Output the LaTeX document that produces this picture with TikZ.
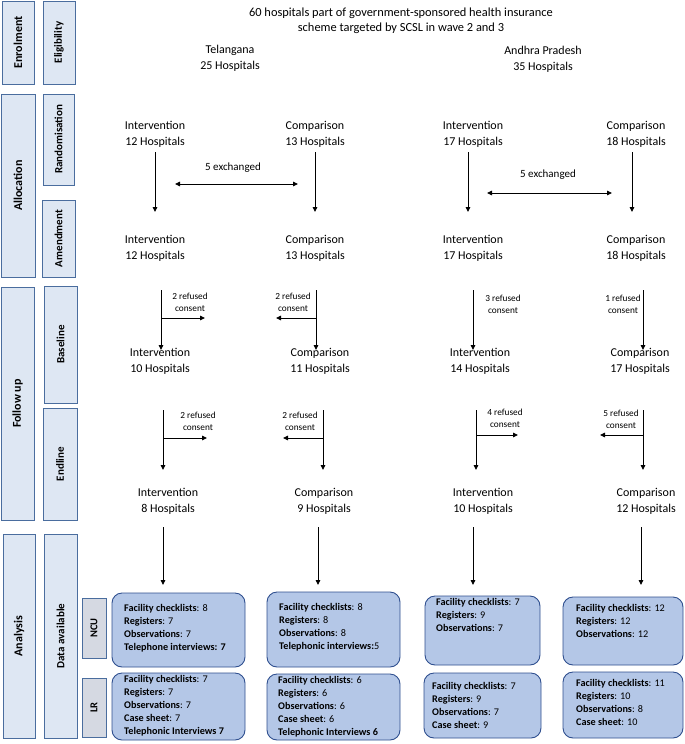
\documentclass[tikz,border=0pt]{standalone}
\usepackage{fontspec}
\setmainfont{Carlito}
\usetikzlibrary{arrows.meta}
\definecolor{sidefill}{HTML}{DEE7F3}
\definecolor{sideborder}{HTML}{4A6D9E}
\definecolor{grayfill}{HTML}{D5D9E2}
\definecolor{boxfill}{HTML}{B4C7E7}
\definecolor{boxborder}{HTML}{2F4F8F}
\begin{document}
\begin{tikzpicture}[x=1pt,y=-1pt,
  sidebox/.style={draw=sideborder, fill=sidefill, line width=0.9pt, rotate=90, inner sep=0pt, font=\bfseries\fontsize{12}{14}\selectfont},
  subbox/.style={sidebox, font=\bfseries\fontsize{11}{13}\selectfont},
  graybox/.style={draw=sideborder, fill=grayfill, line width=0.9pt, rotate=90, inner sep=0pt, font=\bfseries\fontsize{10.5}{12}\selectfont},
  grp/.style={align=center, inner sep=0pt, font=\fontsize{12}{16}\selectfont},
  small/.style={align=center, inner sep=0pt, font=\fontsize{9.3}{12}\selectfont},
  exch/.style={inner sep=0pt, font=\fontsize{11}{13}\selectfont},
  databox/.style={draw=boxborder, fill=boxfill, line width=0.9pt, rounded corners=10pt, inner sep=0pt},
  datatext/.style={align=left, anchor=north west, inner sep=0pt, font=\fontsize{10.2}{13}\selectfont},
  arr/.style={-{Triangle[length=5pt,width=4.5pt]}, line width=0.9pt},
  darr/.style={{Triangle[length=5pt,width=4.5pt]}-{Triangle[length=5pt,width=4.5pt]}, line width=0.9pt}
]
\useasboundingbox (0,0) rectangle (685,744);

% side column
\node[sidebox, minimum width=83, minimum height=32] (enrol) at (18,42.5) {Enrolment};
\node[subbox, minimum width=83, minimum height=32] (elig) at (59,42.5) {Eligibility};
\node[sidebox, minimum width=183, minimum height=34] (alloc) at (18,185.5) {Allocation};
\node[subbox, minimum width=91, minimum height=31] (rand) at (58.5,139.5) {Randomisation};
\node[subbox, minimum width=77, minimum height=33] (amend) at (58.5,238.5) {Amendment};
\node[sidebox, minimum width=233, minimum height=33] (follow) at (17.5,403.5) {Follow up};
\node[subbox, minimum width=117, minimum height=33] (base) at (60.5,344.5) {Baseline};
\node[subbox, minimum width=112, minimum height=34] (endl) at (60,464) {Endline};
\node[sidebox, minimum width=204, minimum height=32] (anal) at (19,636) {Analysis};
\node[subbox, minimum width=204, minimum height=33] (datav) at (60.5,636) {Data available};
\node[graybox, minimum width=60, minimum height=24] (ncu) at (94,628) {NCU};
\node[graybox, minimum width=59, minimum height=24] (lr) at (94,707.5) {LR};

% title
\node[grp, font=\fontsize{12.4}{14.5}\selectfont] (title) at (401,21) {60 hospitals part of government-sponsored health insurance\\scheme targeted by SCSL in wave 2 and 3};
\node[grp] (tel) at (230,58) {Telangana\\25 Hospitals};
\node[grp] (ap) at (543,59.5) {Andhra Pradesh\\35 Hospitals};

% randomisation row
\node[grp] (ti1) at (155,134.5) {Intervention\\12 Hospitals};
\node[grp] (tc1) at (315,134.5) {Comparison\\13 Hospitals};
\node[grp] (ai1) at (473,134.5) {Intervention\\17 Hospitals};
\node[grp] (ac1) at (636,134.5) {Comparison\\18 Hospitals};

% amendment row
\node[grp] (ti2) at (155,248) {Intervention\\12 Hospitals};
\node[grp] (tc2) at (315,248) {Comparison\\13 Hospitals};
\node[grp] (ai2) at (473,248) {Intervention\\17 Hospitals};
\node[grp] (ac2) at (636,248) {Comparison\\18 Hospitals};

% baseline row
\node[grp] (ti3) at (160,361) {Intervention\\10 Hospitals};
\node[grp] (tc3) at (320,361) {Comparison\\11 Hospitals};
\node[grp] (ai3) at (480,361) {Intervention\\14 Hospitals};
\node[grp] (ac3) at (640,361) {Comparison\\17 Hospitals};

% endline row
\node[grp] (ti4) at (168,501) {Intervention\\8 Hospitals};
\node[grp] (tc4) at (324,501) {Comparison\\9 Hospitals};
\node[grp] (ai4) at (483,501) {Intervention\\10 Hospitals};
\node[grp] (ac4) at (646,501) {Comparison\\12 Hospitals};

% randomisation -> amendment
\coordinate (r1a) at (155,152); \coordinate (r1b) at (155,212);
\coordinate (r2a) at (315,152); \coordinate (r2b) at (315,212);
\coordinate (r3a) at (468,152); \coordinate (r3b) at (468,212);
\coordinate (r4a) at (632,152); \coordinate (r4b) at (632,212);
\draw[arr] (r1a) -- (r1b);
\draw[arr] (r2a) -- (r2b);
\draw[arr] (r3a) -- (r3b);
\draw[arr] (r4a) -- (r4b);
\node[exch] (ex1) at (233,168) {5 exchanged};
\coordinate (ex1a) at (175,184); \coordinate (ex1b) at (298,184);
\draw[darr] (ex1a) -- (ex1b);
\node[exch] (ex2) at (548,175) {5 exchanged};
\coordinate (ex2a) at (487,193); \coordinate (ex2b) at (612,193);
\draw[darr] (ex2a) -- (ex2b);

% amendment -> baseline
\coordinate (b1a) at (161,290); \coordinate (b1b) at (161,350); \coordinate (b1m) at (161,318); \coordinate (b1e) at (205,318);
\draw[arr] (b1a) -- (b1b); \draw[arr] (b1m) -- (b1e);
\node[small] (rf1) at (190,302) {2 refused\\consent};
\coordinate (b2a) at (316,290); \coordinate (b2b) at (316,350); \coordinate (b2m) at (316,318); \coordinate (b2e) at (276,318);
\draw[arr] (b2a) -- (b2b); \draw[arr] (b2m) -- (b2e);
\node[small] (rf2) at (293,302) {2 refused\\consent};
\coordinate (b3a) at (473,290); \coordinate (b3b) at (473,350);
\draw[arr] (b3a) -- (b3b);
\node[small] (rf3) at (503,304) {3 refused\\consent};
\coordinate (b4a) at (643,290); \coordinate (b4b) at (643,350);
\draw[arr] (b4a) -- (b4b);
\node[small] (rf4) at (623,304) {1 refused\\consent};

% baseline -> endline
\coordinate (e1a) at (163,410); \coordinate (e1b) at (163,470); \coordinate (e1m) at (163,438); \coordinate (e1e) at (207,438);
\draw[arr] (e1a) -- (e1b); \draw[arr] (e1m) -- (e1e);
\node[small] (rf5) at (198,421) {2 refused\\consent};
\coordinate (e2a) at (323,410); \coordinate (e2b) at (323,470); \coordinate (e2m) at (323,438); \coordinate (e2e) at (283,438);
\draw[arr] (e2a) -- (e2b); \draw[arr] (e2m) -- (e2e);
\node[small] (rf6) at (300,421) {2 refused\\consent};
\coordinate (e3a) at (476,410); \coordinate (e3b) at (476,470); \coordinate (e3m) at (476,435); \coordinate (e3e) at (518,435);
\draw[arr] (e3a) -- (e3b); \draw[arr] (e3m) -- (e3e);
\node[small] (rf7) at (505,418) {4 refused\\consent};
\coordinate (e4a) at (643,410); \coordinate (e4b) at (643,470); \coordinate (e4m) at (643,435); \coordinate (e4e) at (600,435);
\draw[arr] (e4a) -- (e4b); \draw[arr] (e4m) -- (e4e);
\node[small] (rf8) at (621,419) {5 refused\\consent};

% data boxes
\node[databox, minimum width=133, minimum height=74] (tin) at (178.5,630) {};
\node[databox, minimum width=133, minimum height=67] (til) at (178.5,706.5) {};
\node[databox, minimum width=133, minimum height=75] (tcn) at (333.5,629.5) {};
\node[databox, minimum width=133, minimum height=66] (tcl) at (333.5,707) {};
\node[databox, minimum width=115, minimum height=69] (ain) at (482.5,630.5) {};
\node[databox, minimum width=117, minimum height=65] (ail) at (482.5,705.5) {};
\node[databox, minimum width=120, minimum height=68] (acn) at (623,631) {};
\node[databox, minimum width=120, minimum height=66] (acl) at (623,705) {};

\node[datatext] (tint) at (124,604) {\textbf{Facility checklists}: 8\\\textbf{Registers}: 7\\\textbf{Observations}: 7\\\textbf{Telephone interviews: 7}};
\node[datatext] (tilt) at (124,675) {\textbf{Facility checklists}: 7\\\textbf{Registers}: 7\\\textbf{Observations}: 7\\\textbf{Case sheet}: 7\\\textbf{Telephonic Interviews 7}};
\node[datatext] (tcnt) at (279,603) {\textbf{Facility checklists}: 8\\\textbf{Registers}: 8\\\textbf{Observations}: 8\\\textbf{Telephonic interviews:}5};
\node[datatext] (tclt) at (278,676) {\textbf{Facility checklists}: 6\\\textbf{Registers}: 6\\\textbf{Observations}: 6\\\textbf{Case sheet}: 6\\\textbf{Telephonic Interviews 6}};
\node[datatext] (aint) at (436,598) {\textbf{Facility checklists}: 7\\\textbf{Registers}: 9\\\textbf{Observations}: 7};
\node[datatext] (ailt) at (432,682) {\textbf{Facility checklists}: 7\\\textbf{Registers}: 9\\\textbf{Observations}: 7\\\textbf{Case sheet}: 9};
\node[datatext] (acnt) at (576,604) {\textbf{Facility checklists}: 12\\\textbf{Registers}: 12\\\textbf{Observations}: 12};
\node[datatext] (aclt) at (576,679) {\textbf{Facility checklists}: 11\\\textbf{Registers}: 10\\\textbf{Observations}: 8\\\textbf{Case sheet}: 10};

% endline -> data
\coordinate (d1a) at (163,527); \coordinate (d2a) at (318,527); \coordinate (d3a) at (473,527); \coordinate (d4a) at (641,527);
\coordinate (d1b) at (163,585); \coordinate (d2b) at (318,585); \coordinate (d3b) at (473,585); \coordinate (d4b) at (641,585);
\draw[arr] (d1a) -- (d1b);
\draw[arr] (d2a) -- (d2b);
\draw[arr] (d3a) -- (d3b);
\draw[arr] (d4a) -- (d4b);
\end{tikzpicture}
\end{document}
